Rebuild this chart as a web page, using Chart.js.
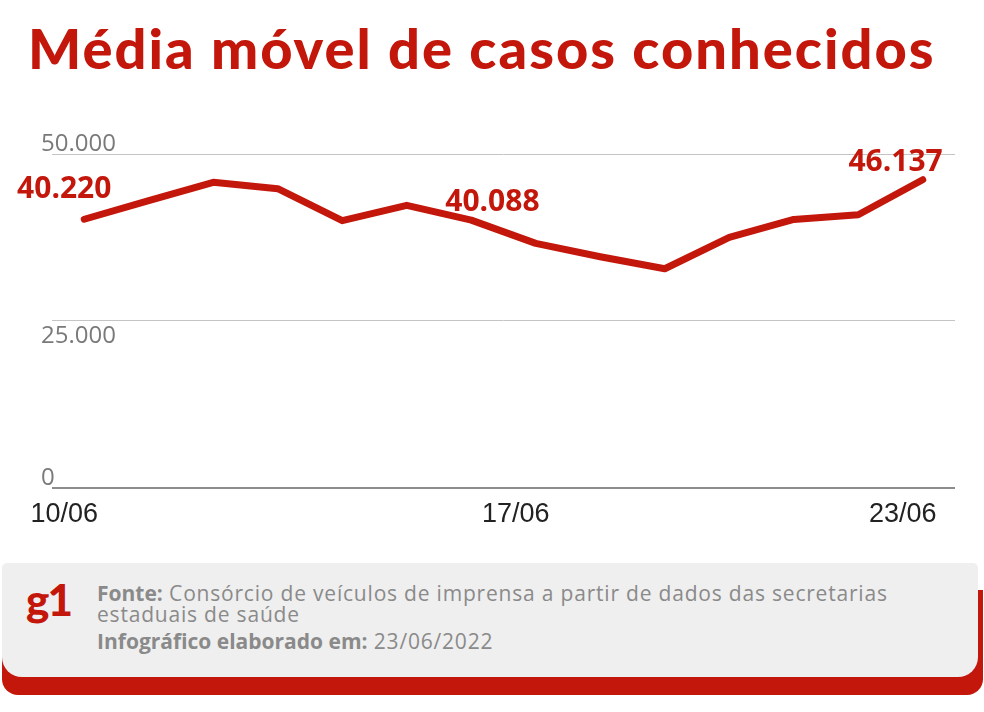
<!DOCTYPE html>
<html>
<head>
<meta charset="utf-8">
<script src="https://cdn.jsdelivr.net/npm/chart.js@4/dist/chart.umd.min.js"></script>
<style>
  body { margin: 0; width: 984px; height: 712px; background: #fff; position: relative; overflow: hidden; font-family: "Open Sans", sans-serif; }
  h1 { position: absolute; left: 28px; top: 20px; margin: 0; font: 900 56px/1 Lato, sans-serif; letter-spacing: 2px; color: #c4170c; white-space: nowrap; }
  #chart { position: absolute; left: 0; top: 0; }
  .back { position: absolute; left: 2px; top: 590px; width: 981px; height: 105px; background: #c4170c; border-radius: 0 0 16px 16px; }
  .card { position: absolute; left: 2px; top: 563px; width: 976px; height: 114px; background: #efefef; border-radius: 5px 5px 20px 20px; }
  .g1 { position: absolute; left: 24px; top: 14px; font: 900 44px/1 Lato, sans-serif; color: #c4170c; letter-spacing: -2px; }
  .src { position: absolute; left: 95px; top: 20px; width: 820px; font-size: 21px; line-height: 21px; letter-spacing: 0.8px; color: #8a8a8a; }
  .src b { font-weight: 700; letter-spacing: 0; }
  .src p { margin: 0; }
  .src p + p { margin-top: 6px; }
</style>
</head>
<body>
<h1>Média móvel de casos conhecidos</h1>
<canvas id="chart" width="984" height="545"></canvas>
<div class="back"></div>
<div class="card">
  <div class="g1">g1</div>
  <div class="src">
    <p><b>Fonte:</b> Consórcio de veículos de imprensa a partir de dados das secretarias<br>estaduais de saúde</p>
    <p><b>Infográfico elaborado em:</b> 23/06/2022</p>
  </div>
</div>
<script>
// moving average of known cases, 10/06 to 23/06
const dates = ['10/06', '11/06', '12/06', '13/06', '14/06', '15/06', '16/06',
  '17/06', '18/06', '19/06', '20/06', '21/06', '22/06', '23/06'];
const cases = [40220, 43000, 45750, 44800, 40000, 42300, 40088,
  36600, 34600, 32800, 37500, 40200, 40900, 46137];
const shownDates = ['10/06', '17/06', '23/06'];
const labelledDates = ['10/06', '16/06', '23/06'];
const yTicks = [0, 25000, 50000];

const red = '#c4170c';

function fmt(v) {
  return String(v).replace(/\B(?=(\d{3})+(?!\d))/g, '.');
}

// value labels next to some points
const valueLabels = {
  id: 'valueLabels',
  afterDatasetsDraw(chart) {
    const { ctx } = chart;
    const pts = chart.getDatasetMeta(0).data;
    const place = [
      { align: 'center', dx: -20, dy: -21 },
      { align: 'left', dx: -26, dy: -9 },
      { align: 'right', dx: 20, dy: -9 },
    ];
    ctx.save();
    ctx.font = 'bold 30px "Open Sans"';
    ctx.fillStyle = red;
    ctx.textBaseline = 'alphabetic';
    labelledDates.forEach((d, k) => {
      const i = dates.indexOf(d);
      const p = pts[i];
      ctx.textAlign = place[k].align;
      ctx.fillText(fmt(cases[i]), p.x + place[k].dx, p.y + place[k].dy);
    });
    ctx.restore();
  },
};

// y tick labels sit on the left end of the grid lines
const yLabels = {
  id: 'yLabels',
  afterDraw(chart) {
    const { ctx, chartArea } = chart;
    const y = chart.scales.y;
    ctx.save();
    ctx.font = '24px "Open Sans"';
    ctx.fillStyle = '#7a7a7a';
    ctx.textAlign = 'left';
    y.ticks.forEach(t => {
      const py = y.getPixelForValue(t.value);
      const below = t.value === 25000;
      ctx.textBaseline = below ? 'top' : 'alphabetic';
      ctx.fillText(fmt(t.value), chartArea.left - 11, below ? py + 3 : py - 3);
    });
    ctx.restore();
  },
};

new Chart(document.getElementById('chart'), {
  type: 'line',
  data: {
    labels: dates,
    datasets: [{
      data: cases,
      borderColor: red,
      borderWidth: 7,
      borderCapStyle: 'round',
      borderJoinStyle: 'round',
      pointRadius: 0,
      tension: 0,
      clip: false,
    }],
  },
  options: {
    responsive: false,
    animation: false,
    layout: { padding: { left: 52, right: 29, top: 154, bottom: 11 } },
    plugins: { legend: { display: false }, tooltip: { enabled: false } },
    scales: {
      x: {
        offset: true,
        grid: { display: false },
        border: { display: false },
        ticks: {
          autoSkip: false,
          maxRotation: 0,
          padding: 3,
          labelOffset: -20,
          color: '#222',
          font: { family: '"Liberation Sans"', size: 27 },
          callback(v, i) {
            return shownDates.includes(dates[i]) ? dates[i] : '';
          },
        },
      },
      y: {
        min: 0,
        max: 50000,
        afterBuildTicks(axis) {
          axis.ticks = yTicks.map(v => ({ value: v }));
        },
        grid: {
          drawTicks: false,
          color: c => (c.tick.value === 0 ? '#8c8c8c' : '#c4c4c4'),
          lineWidth: c => (c.tick.value === 0 ? 2 : 1),
        },
        border: { display: false },
        ticks: { display: false },
      },
    },
  },
  plugins: [valueLabels, yLabels],
});
</script>
</body>
</html>
